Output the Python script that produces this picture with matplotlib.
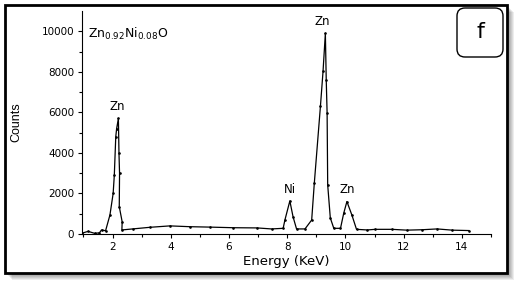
import numpy as np
import matplotlib.pyplot as plt
from matplotlib.patches import Rectangle, FancyBboxPatch
from matplotlib.transforms import IdentityTransform

plt.rcParams['font.family'] = ['DejaVu Sans']
plt.rcParams['mathtext.fontset'] = 'dejavusans'

# EDX spectrum
energy = [0.95, 1.16, 1.39, 1.55, 1.62, 1.76, 1.91, 2.02, 2.06, 2.11, 2.14, 2.20,
          2.22, 2.24, 2.23, 2.33, 2.32, 2.69, 3.28, 3.97, 4.66, 5.34, 6.14, 6.96,
          7.46, 7.86, 7.92, 8.09, 8.20, 8.32, 8.61, 8.84, 8.93, 9.14, 9.23, 9.31,
          9.34, 9.37, 9.39, 9.48, 9.60, 9.83, 9.94, 10.05, 10.22, 10.38, 10.75,
          11.02, 11.60, 12.11, 12.63, 13.15, 13.67, 14.24]
counts = [40, 130, 30, 60, 200, 160, 940, 2000, 2900, 4800, 5200, 5700,
          4000, 3000, 1350, 600, 200, 250, 330, 400, 360, 340, 310, 300,
          250, 280, 690, 1630, 850, 250, 250, 690, 2500, 6290, 8020, 9900,
          7600, 5970, 2420, 790, 280, 280, 1020, 1600, 940, 230, 200,
          230, 230, 190, 210, 250, 190, 170]

peak_names = ['Zn', 'Zn', 'Ni', 'Zn']
peak_x = [2.15, 9.22, 8.09, 10.05]
peak_y = [5700, 9900, 1630, 1600]

xticks = [2, 4, 6, 8, 10, 12, 14]
yticks = [0, 2000, 4000, 6000, 8000, 10000]

fig = plt.figure(figsize=(5.18, 2.84), dpi=100)
W, H = 518, 284

# drop shadow + frame (pixel coords)
px = IdentityTransform()
for i in range(1, 8):
    fig.patches.append(Rectangle((5 + i, H - 273 - i), 502, 268, transform=px,
                                 facecolor='black', edgecolor='none',
                                 alpha=0.07, zorder=0))
fig.patches.append(Rectangle((5, H - 273), 502, 268, transform=px,
                             facecolor='white', edgecolor='black',
                             linewidth=2.0, zorder=1))

ax = fig.add_axes([82 / W, (H - 234) / H, (491 - 82) / W, (234 - 11) / H])
ax.set_zorder(2)
ax.patch.set_visible(False)

ax.plot(energy, counts, color='black', linewidth=0.9, marker='o', markersize=0.9)

for name, x0, y0 in zip(peak_names, peak_x, peak_y):
    ax.text(x0, y0 + 250, name, ha='center', va='bottom', fontsize=8.5)

ax.text(1.15, 9850, r'Zn$_{0.92}$Ni$_{0.08}$O', fontsize=9, va='center')

ax.set_xlim(0.95, 15)
ax.set_ylim(0, 11000)
ax.set_xticks(xticks)
ax.set_yticks(yticks)
ax.set_xticks(np.arange(1, 16, 2), minor=True)
ax.set_yticks(np.arange(1000, 11000, 2000), minor=True)
ax.tick_params(labelsize=7.5, length=3, width=0.8, direction='out', pad=2.5)
ax.tick_params(which='minor', length=2, width=0.8)
ax.spines['top'].set_visible(False)
ax.spines['right'].set_visible(False)
ax.set_xlabel('Energy (KeV)', fontsize=9.5)
ax.set_ylabel('Counts', fontsize=9, family='Liberation Sans')
ax.xaxis.set_label_coords(0.5, -0.095)
ax.yaxis.set_label_coords(-0.145, 0.5)

# panel tag
fig.patches.append(FancyBboxPatch((457, H - 57), 46, 49,
                                  boxstyle='round,pad=0,rounding_size=8',
                                  transform=px, facecolor='white',
                                  edgecolor='black', linewidth=1.0, zorder=3))
fig.text(480 / W, (H - 32) / H, 'f', fontsize=16, ha='center', va='center', zorder=4)

fig.savefig('out.png', dpi=100)
